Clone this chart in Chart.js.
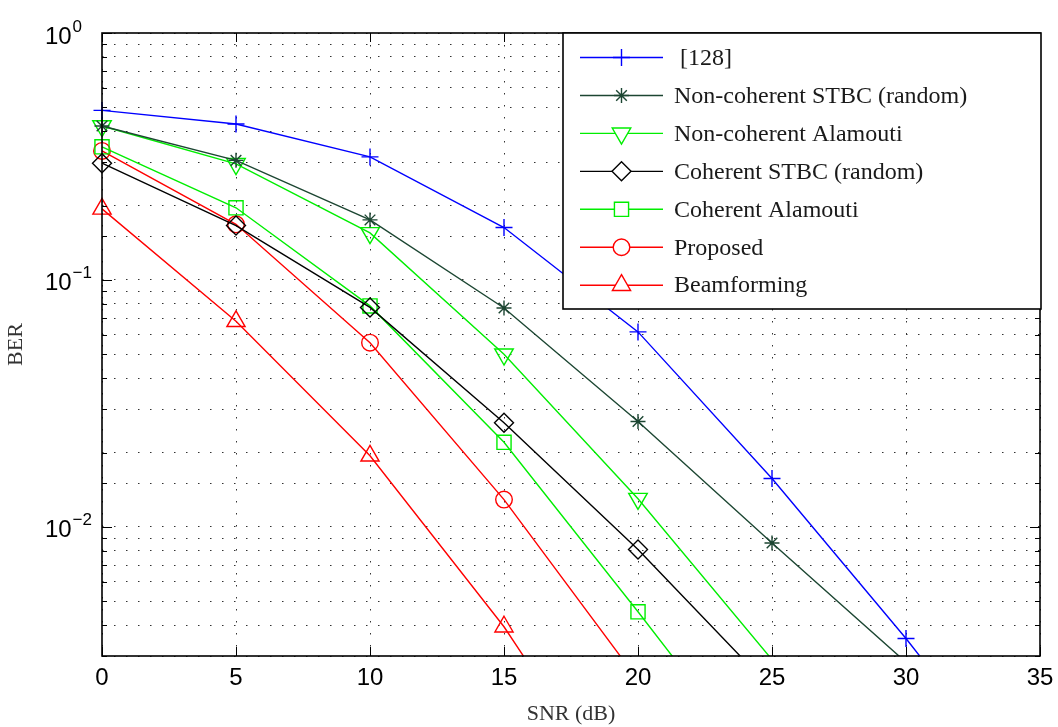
<!DOCTYPE html>
<html>
<head>
<meta charset="utf-8">
<title>BER vs SNR</title>
<script src="https://cdn.jsdelivr.net/npm/chart.js@4.4.0/dist/chart.umd.min.js"></script>
<style>
  html, body { margin: 0; padding: 0; background: #fff; }
</style>
</head>
<body>
<canvas id="ber" width="1058" height="727"></canvas>
<script>
// values (BER per SNR point)
const snrDb = [0, 5, 10, 15, 20, 25, 30, 35];
const ber128 = [0.486, 0.428, 0.315, 0.163, 0.0616, 0.0157, 0.00353, 0.00072];
const berNcStbc = [0.42, 0.305, 0.175, 0.077, 0.0267, 0.0086, 0.00283];
const berNcAlamouti = [0.42, 0.295, 0.155, 0.05, 0.013, 0.0029];
const berCohStbc = [0.297, 0.166, 0.0774, 0.0264, 0.0081, 0.0022];
const berCohAlamouti = [0.346, 0.196, 0.0785, 0.022, 0.00453, 0.0009];
const berProposed = [0.333, 0.168, 0.0557, 0.0129, 0.0024];
const berBeamforming = [0.194, 0.068, 0.0194, 0.00394, 0.0006];

const seriesLabels = [' [128]', 'Non-coherent STBC (random)', 'Non-coherent Alamouti',
  'Coherent STBC (random)', 'Coherent Alamouti', 'Proposed', 'Beamforming'];

const xMin = 0, xMax = 35, xStep = 5;
const yMin = 0.003, yMax = 1;
const yDecades = [1, 0.1, 0.01];
const yExponents = ['0', '\u22121', '\u22122'];

const serif = '"Liberation Serif", "Times New Roman", serif';
const sans = '"Liberation Sans", Arial, sans-serif';

function pts(values) {
  return values.map((v, i) => ({ x: snrDb[i], y: v }));
}

function series(label, values, color, style, radius, rotation) {
  return {
    label: label,
    data: pts(values),
    borderColor: color,
    borderWidth: 1.4,
    backgroundColor: 'rgba(0,0,0,0)',
    pointStyle: style,
    pointRotation: rotation || 0,
    pointRadius: ctx => (ctx.raw && ctx.raw.y < yMin ? 0 : radius),
    pointBorderColor: color,
    pointBackgroundColor: 'rgba(0,0,0,0)',
    pointBorderWidth: 1.4,
    tension: 0,
    fill: false,
    clip: { left: 20, top: 0, right: 0, bottom: 0 }
  };
}

const datasets = [
  series(seriesLabels[0], ber128, '#0000ff', 'cross', 8.5),
  series(seriesLabels[1], berNcStbc, '#1c4632', 'star', 7.5),
  series(seriesLabels[2], berNcAlamouti, '#00ee00', 'triangle', 10.7, 180),
  series(seriesLabels[3], berCohStbc, '#000000', 'rectRot', 9.5),
  series(seriesLabels[4], berCohAlamouti, '#00ee00', 'rect', 10),
  series(seriesLabels[5], berProposed, '#ff0000', 'circle', 8.3),
  series(seriesLabels[6], berBeamforming, '#ff0000', 'triangle', 10.5)
];

const isDecade = v => Math.abs(Math.log10(v) - Math.round(Math.log10(v))) < 1e-6;

// box, inward ticks, legend and 10^n labels, drawn the MATLAB way
const matlabLook = {
  id: 'matlabLook',
  afterDatasetsDraw(chart) {
    const { ctx, chartArea: a, scales: { x, y } } = chart;
    ctx.save();
    ctx.strokeStyle = '#000';
    ctx.lineWidth = 1;
    ctx.beginPath();
    x.ticks.forEach(t => {
      const px = Math.round(x.getPixelForValue(t.value)) + 0.5;
      ctx.moveTo(px, a.bottom); ctx.lineTo(px, a.bottom - 9);
      ctx.moveTo(px, a.top); ctx.lineTo(px, a.top + 9);
    });
    y.ticks.forEach(t => {
      const py = Math.round(y.getPixelForValue(t.value)) + 0.5;
      const len = isDecade(t.value) ? 10 : 5;
      ctx.moveTo(a.left, py); ctx.lineTo(a.left + len, py);
      ctx.moveTo(a.right, py); ctx.lineTo(a.right - len, py);
    });
    ctx.stroke();
    ctx.lineWidth = 1.6;
    ctx.strokeRect(a.left, a.top, a.right - a.left, a.bottom - a.top);

    // legend box in the upper right corner
    const legW = 478, legH = 276;
    const lx = a.right - legW + 1, ly = a.top;
    ctx.fillStyle = '#fff';
    ctx.fillRect(lx, ly, legW, legH);
    ctx.lineWidth = 1.6;
    ctx.strokeRect(lx, ly, legW, legH);
    ctx.font = '24px ' + serif;
    ctx.textBaseline = 'middle';
    ctx.textAlign = 'left';
    chart.data.datasets.forEach((ds, i) => {
      const ry = ly + 24.5 + i * 37.95;
      ctx.strokeStyle = ds.borderColor;
      ctx.lineWidth = ds.borderWidth;
      ctx.beginPath();
      ctx.moveTo(lx + 17, ry);
      ctx.lineTo(lx + 100, ry);
      ctx.stroke();
      ctx.fillStyle = '#fff';
      Chart.helpers.drawPoint(ctx, {
        pointStyle: ds.pointStyle,
        rotation: ds.pointRotation,
        radius: ds.pointRadius({ raw: { y: 1 } }),
        borderWidth: ds.pointBorderWidth
      }, lx + 58.5, ry);
      ctx.fillStyle = '#1a1a1a';
      ctx.fillText(ds.label, lx + 111, ry + 1);
    });
    ctx.restore();
  },
  afterDraw(chart) {
    const { ctx, scales: { y } } = chart;
    ctx.save();
    ctx.fillStyle = '#000';
    ctx.textAlign = 'left';
    ctx.textBaseline = 'alphabetic';
    yDecades.forEach((v, i) => {
      const py = y.getPixelForValue(v);
      ctx.font = '24px ' + sans;
      ctx.fillText('10', 45, py + 10.5);
      ctx.font = '17px ' + sans;
      ctx.fillText(yExponents[i], 72.5, py - 1.5);
    });
    ctx.restore();
  }
};

const dotted = [1.5, 10.5];

new Chart(document.getElementById('ber').getContext('2d'), {
  type: 'line',
  data: { datasets: datasets },
  options: {
    responsive: false,
    animation: false,
    events: [],
    layout: { padding: { left: 0, right: 18, top: 33, bottom: 0 } },
    plugins: { legend: { display: false }, tooltip: { enabled: false } },
    scales: {
      x: {
        type: 'linear',
        min: xMin,
        max: xMax,
        afterFit: s => { s.height = 71; s.paddingLeft = 0; s.paddingRight = 0; },
        ticks: {
          stepSize: xStep,
          maxRotation: 0,
          padding: 8,
          color: '#000',
          font: { family: sans, size: 24 }
        },
        grid: { color: '#333', lineWidth: 1, drawTicks: false },
        border: { display: false, dash: dotted },
        title: {
          display: true,
          text: 'SNR (dB)',
          color: '#333',
          font: { family: serif, size: 22 },
          padding: { top: 0, bottom: 0 }
        }
      },
      y: {
        type: 'logarithmic',
        min: yMin,
        max: yMax,
        afterFit: s => { s.width = 102; s.paddingTop = 0; s.paddingBottom = 0; },
        ticks: { autoSkip: false, callback: () => '' },
        grid: { color: '#333', lineWidth: 1, drawTicks: false },
        border: { display: false, dash: dotted },
        title: {
          display: true,
          text: 'BER',
          color: '#333',
          font: { family: serif, size: 22 },
          padding: { top: 3, bottom: 0 }
        }
      }
    }
  },
  plugins: [matlabLook]
});
</script>
</body>
</html>
